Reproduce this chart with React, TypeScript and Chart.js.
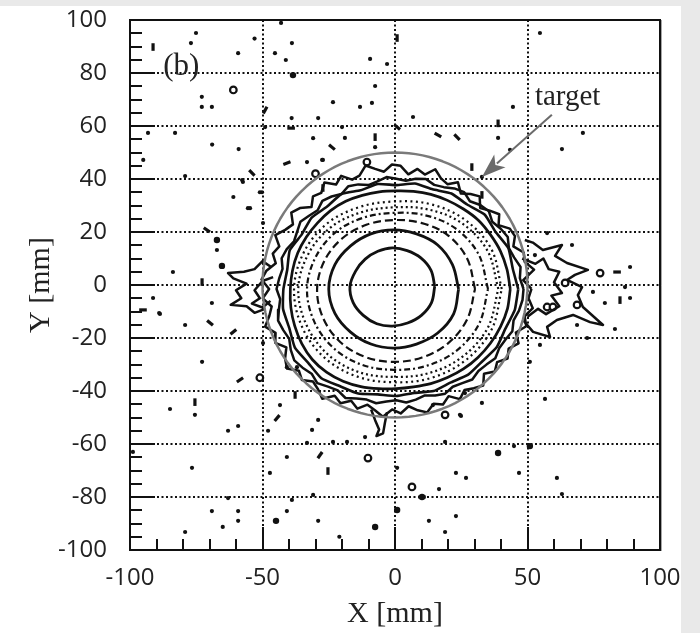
import React, { useEffect, useRef } from "react";
import { Chart, registerables } from "chart.js";

Chart.register(...registerables);

// ---------- axes ----------
const xTickValues = [-100, -50, 0, 50, 100];
const yTickValues = [-100, -80, -60, -40, -20, 0, 20, 40, 60, 80, 100];
const gridX = [-50, 0, 50];
const gridY = [-80, -60, -40, -20, 0, 20, 40, 60, 80];
const xMajorTicks = [-50, 0, 50];
const xMinorTicks = [-90, -80, -70, -60, -40, -30, -20, -10, 10, 20, 30, 40, 60, 70, 80, 90];
const yMajorTicks = [-80, -60, -40, -20, 0, 20, 40, 60, 80];
const yMinorTicks = [-95, -90, -85, -75, -70, -65, -55, -50, -45, -35, -30, -25, -15, -10, -5, 5, 10, 15, 25, 30, 35, 45, 50, 55, 65, 70, 75, 85, 90, 95];

// ---------- target ----------
const targetCenter = [0, 0];
const targetRadius = 50;

// ---------- contour levels (radius in mm, equally spaced angles from +X counter-clockwise) ----------
const innerCenter = [-1, -0.5];
const contour1 = [16, 15.8, 15.2, 14.6, 14.5, 14.3, 14.5, 15, 16, 16, 15.5, 15.3, 15, 15, 15.5, 16];
const midCenter = [-0.5, -1.5];
const contour2 = [24.5, 24, 23.5, 22.5, 22.3, 22.5, 23, 24, 24.5, 24, 23, 22.5, 22.3, 22.5, 23.5, 24.5];
const dashed1 = [30.7, 30, 28.8, 27, 26, 26.3, 27.2, 28.2, 28.9, 28.8, 28.4, 27.8, 27.5, 28, 29, 30];
const dashed2 = [35.6, 34.6, 32.6, 30.2, 28.7, 29.2, 30.6, 31.8, 32.7, 32.4, 31.8, 31, 30.5, 31.5, 33.2, 34.8];
const dotted1 = [39.5, 38.2, 35.6, 32.6, 30.8, 31.4, 33.2, 34.8, 36, 35.6, 35, 34, 33.2, 34.4, 36.4, 38.4];
const dotted2 = [40.8, 39.8, 37.4, 34.8, 33, 33.5, 35.2, 36.6, 37.6, 37.4, 36.8, 35.8, 35.2, 36.4, 38.2, 40];
const outerCenter = [0.5, -1.5];
const solid1 = [43, 42.4, 41.8, 41, 40.4, 39.4, 38.6, 38, 37.4, 37, 37.2, 37.6, 38.2, 38.6, 38.8, 39.2, 39.6, 39.8, 40, 40.4, 40.8, 41.2, 41.4, 41, 40.2, 39.2, 38.2, 37.6, 37.5, 38, 38.6, 39.4, 40.2, 41, 41.8, 42.6];
const solid2 = [46, 44.6, 45, 43.2, 43.6, 41.6, 41.6, 40, 40.4, 39.2, 40.2, 39.6, 41.4, 40.6, 41.8, 41.2, 42.8, 41.8, 42.6, 43.4, 43, 44.2, 43.4, 44, 42.4, 42, 40.4, 40.4, 39.8, 41, 40.8, 42.2, 42.4, 43.8, 43.8, 45.4];
const solid3 = [48, 46.8, 47.6, 46, 45.2, 46.4, 45.5, 44.2, 45.6, 44.8, 43.2, 44.6, 43.8, 42.4, 41.8, 43, 42.2, 41, 41.6, 42.4, 41.2, 40.6, 42, 42.8, 41.4, 42.6, 43.4, 42, 43, 44.2, 43.2, 42.6, 44, 44.8, 43.6, 44.4, 45.2, 44, 45, 46.2, 45.4, 44.6, 46, 47, 46.2, 45.2, 46.4, 45, 44.2, 45.4, 44, 43.2, 43.8, 42.6, 42, 43, 42.4, 41.6, 42.8, 43.6, 42.6, 43.4, 44.6, 43.8, 44.4, 45.6, 44.8, 45.4, 46.6, 45.8, 47, 47.8];
const solid4 = [51, 48, 52.5, 49.5, 50, 47, 49, 48.5, 45.5, 48, 46, 44, 47, 45.5, 43.5, 46.5, 44, 45, 47.5, 44.5, 46, 43.5, 46.5, 47, 44.5, 46, 48, 45, 44.5, 47.5, 45.5, 48.5, 46, 47, 44.5, 47.5, 49, 46, 47.5, 50, 47, 48.5, 46.5, 49.5, 51, 48, 50.5, 47.5, 49, 51.5, 48.5, 50, 47, 49.5, 51, 48, 49.5, 47, 48, 50, 46.5, 48, 45.5, 47.5, 45, 46.5, 48.5, 45.5, 47, 44.5, 46.5, 48, 45.5, 47, 45, 48, 46, 47.5, 49, 46, 48.5, 47, 49.5, 48, 50.5, 48, 51, 49.5, 52, 50];

// ---------- outlying contour branches (x, y in mm) ----------
const rightWing: [number, number][] = [[49, 17], [52, 16], [55.8, 13.2], [63, 15.1], [60.4, 11], [64.9, 8.3], [72.8, 5.7], [67.9, 3.8], [64.9, 1.9], [70.6, -0.8], [69, -3.8], [70.9, -8.3], [78.5, -15.1], [73.6, -14], [67.2, -11.3], [61.1, -13.2], [57.4, -15.8], [58.5, -19.6], [52.1, -17.7], [48.3, -13.2]];
const rightWing2: [number, number][] = [[48, 10], [53, 8], [56, 10], [58, 6], [62, 5], [60, 1], [63, -3], [59, -4], [62, -8], [57, -11], [54, -9], [50, -12]];
const leftWing: [number, number][] = [[-47, 7], [-50, 9], [-53, 6], [-57, 5], [-63, 4.5], [-61, 2.5], [-56, 0.5], [-60, -2], [-58, -5], [-62, -7.5], [-56, -8], [-53, -10.5], [-49, -9]];
const leftWing2: [number, number][] = [[-46, 3], [-50, 1.5], [-53, -2], [-51, -5], [-54, -7], [-50, -8.5], [-47, -6]];
const bottomTail: [number, number][] = [[-9, -47], [-7.5, -51], [-6, -54.5], [-7, -57], [-4.5, -56], [-3.8, -52], [-3, -48]];

// ---------- isolated spots ----------
const smallDots: [number, number][] = [
  [-75.1, 95.1], [-77, 91.3], [-59.2, 87.5], [-53, 93], [-45.3, 87.5], [-41.2, 84.9], [-38.9, 91.3], [-43, 98.9],
  [-72.9, 71], [-72.9, 67.2], [-69.1, 67.2], [-23.4, 69], [-39, 63], [-29, 63], [-20, 59.6], [-93.2, 57.4],
  [-83, 57.4], [-49, 59.6], [-69, 53], [-59, 51.3], [-95, 47.2], [-27.5, 47.2], [-79.2, 41.1], [-57.4, 38.9],
  [-50.2, 35], [-61, 33.2], [-55.5, 29], [-67.2, 13.2], [-83.8, 4.9], [-91.3, -4.9], [-69.1, -6.8], [-89, -10.6],
  [-79.2, -15.1], [-72.8, -29], [-84.9, -46.8], [-75.5, -49], [-43.4, -45.3], [-59.2, -53.2], [-63, -55], [-47.9, -55],
  [-31.3, -54.7], [-29, -50.9], [-98.9, -63], [-40.8, -64.9], [-76.6, -69], [-47.2, -70.9], [-33.2, -59.6], [-23.4, -59.2],
  [-18.1, -59.2], [-63, -80.4], [-38.9, -81.1], [-30.9, -79.2], [-69.1, -85.3], [-59.2, -85.3], [-40.8, -85.3], [-59.2, -89],
  [-29, -89], [-65, -91.3], [-79.2, -93.2], [-21, -95], [54.7, -22.6], [50.9, -29], [32.8, -44.5], [56.6, -43],
  [26.4, -40.8], [24.9, -49.4], [-11.3, -57.4], [18.9, -59.2], [44.9, -60.8], [0.8, -69], [23, -70.9], [26.8, -72.8],
  [46.8, -70.9], [61.1, -72.8], [16.6, -77], [63, -78.9], [23, -87.2], [12.8, -89], [18.9, -93.2], [54.7, 95.1],
  [-9.4, 85.3], [-3, 83.4], [-7.5, 75.1], [-13.2, 67.2], [-8.7, 68.7], [6.8, 63.4], [44.5, 67.2], [-7.5, 52],
  [38.9, 55.5], [70.9, 57.4], [63, 51.3], [32.8, 40.8], [43.4, 51], [66.8, 15.1], [88.7, 6.8], [86.8, -0.8],
  [74.7, -2.6], [88.7, -4.9], [79.2, -6.8], [83, -16.6], [68.7, -15.1], [72.5, -20], [-88.7, -10.9], [-33.2, 46.4],
  [-30.9, 55.4], [-18.9, 55.5], [-57.7, 39.6], [-51, 35], [-54.7, 29], [-49.8, 23.4], [-40.8, -31], [-37, -31],
  [14.3, -45.3], [24.5, -49], [57.4, 19.6], [52.8, 11.3], [-49.8, -21.9], [-27.2, 47.2]
];
const bigDots: [number, number][] = [
  [-38.5, 79.2], [-65.3, 7.2], [-67.2, 17], [38.9, -63.4], [0.8, -84.9], [-7.5, -91.3], [-44.9, -89], [50.9, -60.8], [10.2, -80]
];
const islands: [number, number][] = [
  [-61, 73.6], [-30, 42], [-51, -35], [18.9, -49], [-10.2, -65.3], [6.4, -76.2], [77.4, 4.5], [-10.6, 46.4],
  [57.4, -8.3], [59.6, -8.3], [68.7, -7.5], [64.2, 0.8]
];
// elongated spots: x, y, orientation (deg, screen clockwise)
const streaks: [number, number, number][] = [
  [-91.3, 89.8, 90], [-49, 66, -61], [-39.2, 59.2, 0], [-23.8, 52, 40], [-40.8, 46, -20], [-54, 42.3, 45],
  [-71, 20.8, 35], [-95.1, -9.4, 0], [-69.8, -14.3, 40], [-61, -17.7, -40], [-58.5, -35.8, -35], [-75.5, -44.2, 90],
  [-44.5, -50.2, -50], [-28.3, -64.2, -55], [-25.3, -70.2, 90], [0.8, 93.2, 90], [0.8, 59.6, 40], [-7.5, 55.8, 90],
  [16.2, 56.6, 30], [23.4, 55.8, 45], [38.9, 61, 90], [29, 44.5, 90], [32.8, 34, 90], [83.8, 4.9, 0],
  [84.9, -5.7, 90], [-72.8, 1.1, 90], [-37.7, -41.5, 90], [-27.2, 36.6, 90], [10.2, -80, 0]
];

// ---------- annotations ----------
const panelLabel = { text: "(b)", x: -87.5, y: 82.5 };
const targetLabel = { text: "target", x: 52.8, y: 67.9 };
const arrowFrom = [59.2, 64.2];
const arrowTo = [32.8, 40.8];

// ---------- helpers ----------
function ring(center: number[], radii: number[]) {
  const n = radii.length;
  const pts = radii.map((r, i) => {
    const a = (i * 2 * Math.PI) / n;
    return { x: center[0] + r * Math.cos(a), y: center[1] + r * Math.sin(a) };
  });
  pts.push(pts[0]);
  return pts;
}
function circle(center: number[], r: number, segments: number) {
  const pts = [];
  for (let i = 0; i <= segments; i++) {
    const a = (i * 2 * Math.PI) / segments;
    pts.push({ x: center[0] + r * Math.cos(a), y: center[1] + r * Math.sin(a) });
  }
  return pts;
}
const toXY = (arr: [number, number][]) => arr.map(([x, y]) => ({ x, y }));

const INK = "#111111";

const lineDs = (data: any[], width: number, dash: number[], tension: number, color = INK) => ({
  data,
  showLine: true,
  borderColor: color,
  backgroundColor: color,
  borderWidth: width,
  borderDash: dash,
  tension,
  pointRadius: 0,
  pointHoverRadius: 0,
  borderJoinStyle: "round" as const,
});

const decorPlugin = {
  id: "decor",
  beforeDatasetsDraw(chart: any) {
    const { ctx, chartArea: a, scales } = chart;
    const xs = scales.x, ys = scales.y;
    ctx.save();
    ctx.beginPath();
    ctx.rect(a.left, a.top, a.right - a.left, a.bottom - a.top);
    ctx.clip();
    ctx.strokeStyle = "#111";
    ctx.lineWidth = 2;
    ctx.setLineDash([2, 2.5]);
    gridX.forEach((v) => {
      const p = Math.round(xs.getPixelForValue(v));
      ctx.beginPath();
      ctx.moveTo(p, a.top);
      ctx.lineTo(p, a.bottom);
      ctx.stroke();
    });
    gridY.forEach((v) => {
      const p = Math.round(ys.getPixelForValue(v));
      ctx.beginPath();
      ctx.moveTo(a.left, p);
      ctx.lineTo(a.right, p);
      ctx.stroke();
    });
    ctx.restore();
  },
  afterDatasetsDraw(chart: any) {
    const { ctx, chartArea: a, scales } = chart;
    const xs = scales.x, ys = scales.y;
    ctx.save();
    ctx.setLineDash([]);
    ctx.strokeStyle = "#111";
    ctx.lineWidth = 2;
    const tick = (x1: number, y1: number, x2: number, y2: number) => {
      ctx.beginPath();
      ctx.moveTo(x1, y1);
      ctx.lineTo(x2, y2);
      ctx.stroke();
    };
    yMajorTicks.forEach((v) => { const p = Math.round(ys.getPixelForValue(v)); tick(a.left, p, a.left + 25, p); });
    yMinorTicks.forEach((v) => { const p = Math.round(ys.getPixelForValue(v)); tick(a.left, p, a.left + 12, p); });
    xMajorTicks.forEach((v) => { const p = Math.round(xs.getPixelForValue(v)); tick(p, a.bottom, p, a.bottom - 23); });
    xMinorTicks.forEach((v) => { const p = Math.round(xs.getPixelForValue(v)); tick(p, a.bottom, p, a.bottom - 11); });
    // frame
    ctx.strokeRect(a.left, a.top, a.right - a.left, a.bottom - a.top);
    ctx.strokeStyle = "rgba(0,0,0,0.35)";
    ctx.lineWidth = 1;
    ctx.beginPath();
    ctx.moveTo(a.right + 1.5, a.top);
    ctx.lineTo(a.right + 1.5, a.bottom + 1);
    ctx.stroke();
    // arrow
    const x1 = xs.getPixelForValue(arrowFrom[0]), y1 = ys.getPixelForValue(arrowFrom[1]);
    const x2 = xs.getPixelForValue(arrowTo[0]), y2 = ys.getPixelForValue(arrowTo[1]);
    const ang = Math.atan2(y2 - y1, x2 - x1);
    const hl = 24, hw = 8.5;
    const bx = x2 - hl * Math.cos(ang), by = y2 - hl * Math.sin(ang);
    ctx.strokeStyle = "#6b6b6b";
    ctx.fillStyle = "#6b6b6b";
    ctx.lineWidth = 2;
    ctx.beginPath();
    ctx.moveTo(x1, y1);
    ctx.lineTo(bx + 4 * Math.cos(ang), by + 4 * Math.sin(ang));
    ctx.stroke();
    ctx.beginPath();
    ctx.moveTo(x2, y2);
    ctx.lineTo(bx - hw * Math.sin(ang), by + hw * Math.cos(ang));
    ctx.lineTo(bx + 6 * Math.cos(ang), by + 6 * Math.sin(ang));
    ctx.lineTo(bx + hw * Math.sin(ang), by - hw * Math.cos(ang));
    ctx.closePath();
    ctx.fill();
    // texts
    ctx.fillStyle = "#222";
    ctx.font = '31px "Liberation Serif", "Times New Roman", serif';
    ctx.textAlign = "left";
    ctx.textBaseline = "middle";
    ctx.fillText(panelLabel.text, xs.getPixelForValue(panelLabel.x), ys.getPixelForValue(panelLabel.y));
    ctx.font = '29px "Liberation Serif", "Times New Roman", serif';
    ctx.textBaseline = "alphabetic";
    ctx.fillText(targetLabel.text, xs.getPixelForValue(targetLabel.x), ys.getPixelForValue(targetLabel.y));
    ctx.restore();
  },
};

// canvas geometry: plot area must land on page x 130..660, y 20..550
const PAD_TOP = 36;
const PAD_RIGHT = 38;
const CANVAS_W = 660 + PAD_RIGHT;
const CANVAS_H = 550 - 20 + PAD_TOP + 83;

export default function App() {
  const ref = useRef<HTMLCanvasElement | null>(null);
  useEffect(() => {
    if (!ref.current) return;
    const tickFont = { family: '"Open Sans", "Noto Sans", sans-serif', size: 24, lineHeight: 1 };
    const titleFont = { family: '"Liberation Serif", "Times New Roman", serif', size: 30, lineHeight: 1.1 };
    const chart = new Chart(ref.current, {
      type: "scatter",
      data: {
        datasets: [
          lineDs(circle(targetCenter, targetRadius, 120), 2.5, [], 0, "#7a7a7a"),
          lineDs(ring(innerCenter, contour1), 2.8, [], 0.35),
          lineDs(ring(midCenter, contour2), 2.8, [], 0.35),
          lineDs(ring(midCenter, dashed1), 2.2, [8, 4], 0.35),
          lineDs(ring(midCenter, dashed2), 2.2, [6, 3, 2, 3], 0.35),
          lineDs(ring(midCenter, dotted1), 2.2, [2, 3], 0.35),
          lineDs(ring(midCenter, dotted2), 2.2, [2, 3.5], 0.35),
          lineDs(ring(outerCenter, solid1), 2.7, [], 0.25),
          lineDs(ring(outerCenter, solid2), 2.6, [], 0.15),
          lineDs(ring(outerCenter, solid3), 2.5, [], 0),
          lineDs(ring(outerCenter, solid4), 2.5, [], 0),
          lineDs(toXY(rightWing), 2.5, [], 0),
          lineDs(toXY(rightWing2), 2.5, [], 0),
          lineDs(toXY(leftWing), 2.5, [], 0),
          lineDs(toXY(leftWing2), 2.5, [], 0),
          lineDs(toXY(bottomTail), 2.5, [], 0),
          {
            data: toXY(smallDots),
            pointRadius: 2.1,
            pointBackgroundColor: INK,
            pointBorderColor: INK,
            pointBorderWidth: 0,
          },
          {
            data: toXY(bigDots),
            pointRadius: 3.2,
            pointBackgroundColor: INK,
            pointBorderColor: INK,
            pointBorderWidth: 0,
          },
          {
            data: toXY(islands),
            pointRadius: 3.3,
            pointBackgroundColor: "#ffffff",
            pointBorderColor: INK,
            pointBorderWidth: 2.2,
          },
          {
            data: streaks.map(([x, y]) => ({ x, y })),
            pointStyle: "line",
            pointRadius: 3.8,
            pointRotation: streaks.map((s) => s[2]),
            pointBorderColor: INK,
            pointBorderWidth: 3.2,
          },
        ] as any,
      },
      options: {
        animation: false,
        responsive: false,
        events: [],
        layout: { padding: { top: PAD_TOP, right: PAD_RIGHT, left: 0, bottom: 0 } },
        plugins: { legend: { display: false }, tooltip: { enabled: false } },
        scales: {
          x: {
            type: "linear",
            min: -100,
            max: 100,
            afterBuildTicks: (s: any) => { s.ticks = xTickValues.map((v) => ({ value: v })); },
            afterFit: (s: any) => { s.height = 83; },
            grid: { display: false, drawTicks: false },
            border: { display: false },
            ticks: { padding: 16, font: tickFont, color: "#222", maxRotation: 0, autoSkip: false },
            title: { display: true, text: "X [mm]", font: titleFont, color: "#222", padding: { top: 0, bottom: 2 } },
          },
          y: {
            type: "linear",
            min: -100,
            max: 100,
            afterBuildTicks: (s: any) => { s.ticks = yTickValues.map((v) => ({ value: v })); },
            afterFit: (s: any) => { s.width = 130; },
            grid: { display: false, drawTicks: false },
            border: { display: false },
            ticks: { padding: 23, font: tickFont, color: "#222", autoSkip: false },
            title: { display: true, text: "Y [mm]", font: titleFont, color: "#222", padding: { top: 25, bottom: 0 } },
          },
        },
      } as any,
      plugins: [decorPlugin],
    });
    return () => chart.destroy();
  }, []);

  return (
    <div style={{ position: "absolute", left: 0, top: 0, width: 700, height: 633, background: "#e9e9e9", overflow: "hidden" }}>
      <div style={{ position: "absolute", left: 0, top: 6, width: 681, height: 627, background: "#ffffff" }} />
      <canvas
        ref={ref}
        width={CANVAS_W}
        height={CANVAS_H}
        style={{ position: "absolute", left: 0, top: 20 - PAD_TOP, display: "block", width: CANVAS_W, height: CANVAS_H }}
      />
    </div>
  );
}
